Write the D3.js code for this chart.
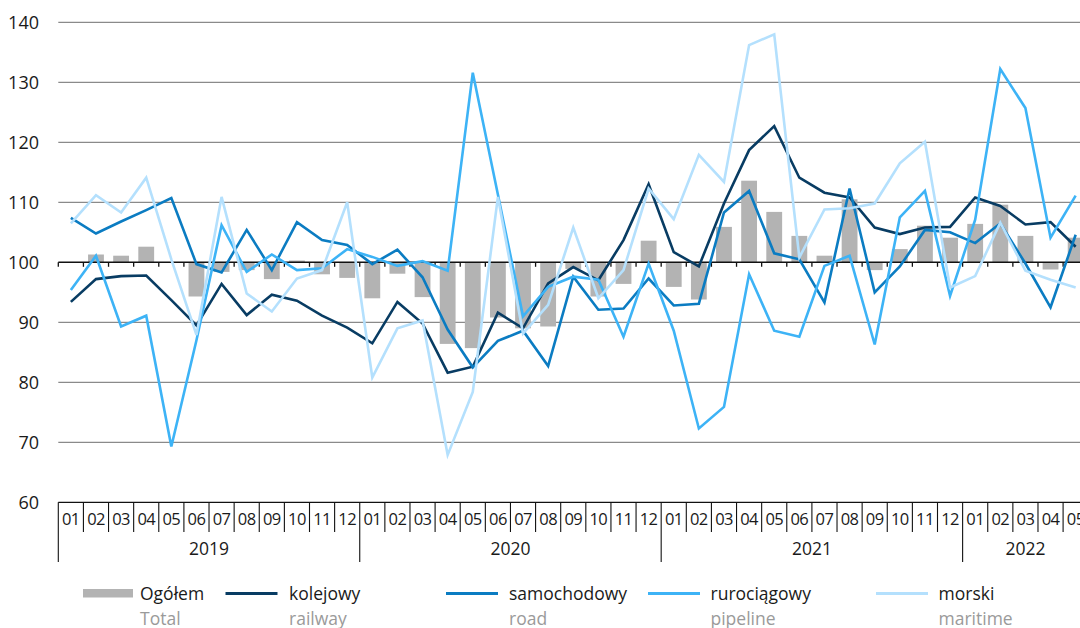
<!DOCTYPE html>
<html>
<head>
<meta charset="utf-8">
<script src="https://cdn.jsdelivr.net/npm/d3@7"></script>
<style>
	body { margin: 0; background: #fff; }
	svg { display: block; font-family: "Open Sans", "Noto Sans", sans-serif; }
</style>
</head>
<body>
<svg id="mainsvg" width="1080" height="628"></svg>
<script>
// months 2019-01 .. 2022-05
var years = ["2019", "2020", "2021", "2022"];
var monthLabels = ["01","02","03","04","05","06","07","08","09","10","11","12"];

var total = [100.0, 101.3, 101.1, 102.6, 100.0, 94.3, 98.4, 98.7, 97.2, 100.3, 98.0, 97.4,
	94.0, 98.1, 94.2, 86.4, 85.7, 90.8, 89.0, 89.3, 98.9, 94.3, 96.4, 103.6,
	95.9, 93.8, 105.9, 113.6, 108.4, 104.4, 101.1, 110.5, 98.7, 102.2, 106.1, 104.1,
	106.4, 109.6, 104.4, 98.8, 104.1];
var railway = [93.4, 97.2, 97.7, 97.8, 93.7, 89.5, 96.4, 91.2, 94.6, 93.6, 91.1, 89.1,
	86.5, 93.4, 89.8, 81.6, 82.6, 91.6, 89.0, 96.5, 99.2, 97.0, 103.7, 113.0,
	101.7, 99.3, 109.8, 118.7, 122.7, 114.1, 111.6, 110.8, 105.8, 104.7, 105.8, 105.9,
	110.8, 109.4, 106.3, 106.7, 102.6];
var road = [107.4, 104.8, 106.8, 108.7, 110.7, 99.7, 98.3, 105.4, 98.7, 106.7, 103.7, 102.9,
	99.7, 102.1, 97.5, 88.8, 82.5, 86.9, 88.6, 82.7, 97.6, 92.1, 92.3, 97.3,
	92.8, 93.1, 108.3, 111.9, 101.5, 100.5, 93.3, 112.3, 95.0, 99.3, 105.4, 105.0,
	103.2, 106.5, 99.8, 92.5, 104.6];
var pipeline = [95.4, 101.1, 89.3, 91.1, 69.3, 87.0, 106.2, 98.4, 101.3, 98.7, 99.0, 102.2,
	100.9, 99.4, 100.2, 98.6, 131.6, 111.3, 91.0, 95.9, 97.6, 97.1, 87.6, 99.8,
	88.6, 72.3, 75.9, 98.0, 88.6, 87.6, 99.4, 101.1, 86.3, 107.5, 111.9, 94.4,
	107.1, 132.2, 125.7, 104.1, 111.1];
var maritime = [106.5, 111.2, 108.3, 114.1, 100.5, 87.9, 110.9, 94.8, 91.8, 97.3, 98.7, 110.0,
	80.8, 89.0, 90.3, 67.9, 78.4, 110.9, 88.1, 92.9, 105.8, 94.0, 98.7, 112.3,
	107.2, 117.9, 113.4, 136.2, 138.0, 100.8, 108.8, 109.0, 109.8, 116.5, 120.1, 95.8,
	97.7, 106.6, 98.6, 97.1, 95.8];
var yTicks = [60, 70, 80, 90, 100, 110, 120, 130, 140];

var series = [
	{ pl: "kolejowy", en: "railway", values: railway, color: "#083c63" },
	{ pl: "samochodowy", en: "road", values: road, color: "#0b7cc2" },
	{ pl: "rurociągowy", en: "pipeline", values: pipeline, color: "#3db3f6" },
	{ pl: "morski", en: "maritime", values: maritime, color: "#b4e0fd" }
];

var months = [];
total.forEach(function(d, i) {
	months.push({ key: i, month: monthLabels[i % 12], year: years[Math.floor(i / 12)] });
});

var svg = d3.select("#mainsvg");
var left = 58.3, bw = 25.12;

var x = d3.scaleBand()
	.domain(months.map(function(d) { return d.key; }))
	.range([left, left + bw * months.length]);
var y = d3.scaleLinear().domain([60, 140]).range([502.3, 22.3]);
var cx = function(i) { return x(i) + x.bandwidth() / 2; };

// gridlines
svg.append("g")
	.selectAll("line")
	.data(yTicks.filter(function(d) { return d != 60 && d != 100; }))
	.enter().append("line")
	.attr("x1", left).attr("x2", 1080)
	.attr("y1", function(d) { return y(d); })
	.attr("y2", function(d) { return y(d); })
	.attr("stroke", "#8a8a8a")
	.attr("stroke-width", 1.3);

// y labels
svg.append("g")
	.selectAll("text")
	.data(yTicks)
	.enter().append("text")
	.attr("x", 39)
	.attr("y", function(d) { return y(d); })
	.attr("dy", "0.36em")
	.attr("text-anchor", "end")
	.attr("font-size", 18)
	.attr("fill", "#1a1a1a")
	.text(function(d) { return d; });

// bars (Total)
var bwBar = x.bandwidth() * 0.63;
svg.append("g")
	.selectAll("rect")
	.data(total)
	.enter().append("rect")
	.attr("x", function(d, i) { return cx(i) - bwBar / 2; })
	.attr("y", function(d) { return y(Math.max(d, 100)); })
	.attr("width", bwBar)
	.attr("height", function(d) { return Math.abs(y(d) - y(100)); })
	.attr("fill", "#b3b3b3");

// 100 line with ticks
svg.append("line")
	.attr("x1", left).attr("x2", 1080)
	.attr("y1", y(100)).attr("y2", y(100))
	.attr("stroke", "#111").attr("stroke-width", 1.4);
svg.append("g")
	.selectAll("line")
	.data(months)
	.enter().append("line")
	.attr("x1", function(d) { return x(d.key); })
	.attr("x2", function(d) { return x(d.key); })
	.attr("y1", y(100)).attr("y2", y(100) + 4.5)
	.attr("stroke", "#111").attr("stroke-width", 1.3);

// lines
var line = d3.line()
	.x(function(d, i) { return cx(i); })
	.y(function(d) { return y(d); });

svg.append("g")
	.selectAll("path")
	.data(series)
	.enter().append("path")
	.attr("d", function(d) { return line(d.values); })
	.attr("fill", "none")
	.attr("stroke", function(d) { return d.color; })
	.attr("stroke-width", 2.6)
	.attr("stroke-linejoin", "miter");

// bottom axis
var axis = svg.append("g");
axis.append("line")
	.attr("x1", left).attr("x2", 1080)
	.attr("y1", y(60)).attr("y2", y(60))
	.attr("stroke", "#111").attr("stroke-width", 1.3);
axis.selectAll(".sep")
	.data(months)
	.enter().append("line")
	.attr("x1", function(d) { return x(d.key); })
	.attr("x2", function(d) { return x(d.key); })
	.attr("y1", y(60))
	.attr("y2", function(d) { return d.key % 12 == 0 ? 562 : 532; })
	.attr("stroke", "#111").attr("stroke-width", 1.1);
axis.selectAll(".mlab")
	.data(months)
	.enter().append("text")
	.attr("x", function(d) { return cx(d.key); })
	.attr("y", 525)
	.attr("text-anchor", "middle")
	.attr("font-size", 16.5)
	.attr("letter-spacing", -0.6)
	.attr("fill", "#1a1a1a")
	.text(function(d) { return d.month; });
axis.selectAll(".ylab")
	.data(years)
	.enter().append("text")
	.attr("x", function(d, i) {
		var n = Math.min(12, months.length - i * 12);
		return x(i * 12) + bw * n / 2;
	})
	.attr("y", 555)
	.attr("text-anchor", "middle")
	.attr("font-size", 17.5)
	.attr("fill", "#1a1a1a")
	.text(function(d) { return d; });

// legend
var legendItems = [{ pl: "Ogółem", en: "Total", bar: true, sx: 83, tx: 140 }];
var legendX = [[225.5, 289], [446, 509], [648, 710.5], [876, 938.5]];
series.forEach(function(s, i) {
	legendItems.push({ pl: s.pl, en: s.en, color: s.color, sx: legendX[i][0], tx: legendX[i][1] });
});

var legend = svg.append("g");
legendItems.forEach(function(d) {
	if (d.bar) {
		legend.append("rect")
			.attr("x", d.sx).attr("y", 589)
			.attr("width", 50).attr("height", 8.5)
			.attr("fill", "#b3b3b3");
	} else {
		legend.append("line")
			.attr("x1", d.sx).attr("x2", d.sx + 52)
			.attr("y1", 593.5).attr("y2", 593.5)
			.attr("stroke", d.color).attr("stroke-width", 3);
	}
	legend.append("text")
		.attr("x", d.tx).attr("y", 599.5)
		.attr("font-size", 17.5)
		.attr("fill", "#1a1a1a")
		.text(d.pl);
	legend.append("text")
		.attr("x", d.tx).attr("y", 625)
		.attr("font-size", 17.5)
		.attr("fill", "#9a9a9a")
		.text(d.en);
});
</script>
</body>
</html>
